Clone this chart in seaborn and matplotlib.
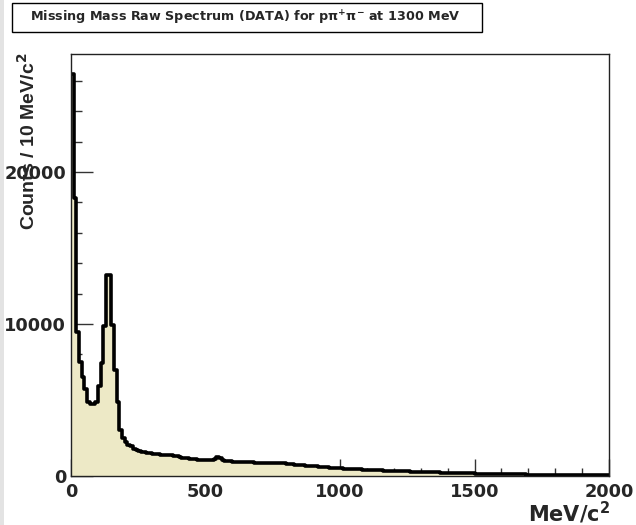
import numpy as np
import pandas as pd
import seaborn as sns
import matplotlib
matplotlib.use("Agg")
import matplotlib.pyplot as plt
from matplotlib import font_manager
from matplotlib.font_manager import FontProperties
from matplotlib.patches import Rectangle
from matplotlib.ticker import MultipleLocator

# Missing-mass spectrum, 10 MeV/c^2 bins from 0 to 2000 MeV/c^2
bin_width = 10
x_min, x_max = 0, 2000
counts = [
    26440, 18300, 9500, 7500, 6500, 5700, 4900, 4750, 4750, 4850,
    5900, 7450, 9900, 13200, 13250, 9950, 7000, 4900, 3050, 2480,
    2230, 2040, 1950, 1780, 1720, 1640, 1600, 1570, 1520, 1490,
    1470, 1440, 1420, 1400, 1390, 1380, 1370, 1350, 1330, 1300,
    1250, 1200, 1180, 1160, 1150, 1140, 1100, 1080, 1060, 1050,
    1050, 1040, 1060, 1130, 1230, 1200, 1060, 1000, 990, 975,
    950, 940, 930, 920, 915, 905, 900, 890, 880, 870,
    865, 860, 850, 845, 840, 835, 850, 880, 870, 830,
    800, 780, 765, 750, 735, 720, 705, 690, 675, 660,
    645, 630, 615, 600, 585, 570, 555, 540, 525, 510,
    500, 490, 480, 470, 460, 450, 440, 432, 424, 416,
    408, 400, 392, 384, 376, 368, 360, 352, 345, 338,
    332, 326, 320, 314, 308, 302, 296, 290, 284, 278,
    272, 266, 260, 254, 248, 242, 236, 230, 224, 218,
    212, 206, 200, 195, 190, 185, 180, 176, 172, 168,
    164, 160, 156, 152, 148, 144, 140, 136, 132, 128,
    124, 121, 118, 115, 112, 109, 106, 103, 100, 98,
    96, 94, 92, 90, 88, 86, 84, 82, 80, 79,
    78, 77, 76, 75, 74, 73, 72, 71, 70, 69,
    68, 67, 66, 65, 64, 63, 62, 61, 60, 59,
]
x_major_ticks = [0, 500, 1000, 1500, 2000]
y_major_ticks = [0, 10000, 20000]

title = "Missing Mass Raw Spectrum (DATA) for pπ$^{+}$π$^{-}$ at 1300 MeV"
y_title = "Counts / 10 MeV/c$^{2}$"
x_title = "MeV/c$^{2}$"

centers = x_min + bin_width * (np.arange(len(counts)) + 0.5)
df = pd.DataFrame({"mass": centers, "counts": counts})

sns.set_theme(style="white")
plt.rcParams["font.family"] = ["DejaVu Sans"]
plt.rcParams["font.weight"] = "bold"
plt.rcParams["mathtext.fontset"] = "custom"
plt.rcParams["mathtext.rm"] = "DejaVu Sans:bold"
plt.rcParams["mathtext.it"] = "DejaVu Sans:bold"
plt.rcParams["mathtext.bf"] = "DejaVu Sans:bold"


def font_available(name):
    try:
        font_manager.findfont(FontProperties(family=name, weight="bold"),
                              fallback_to_default=False)
        return True
    except ValueError:
        return False


# Narrow face for the vertical axis title
if font_available("Liberation Sans Narrow"):
    ytitle_family, ytitle_size = "Liberation Sans Narrow", 17
else:
    ytitle_family, ytitle_size = "Liberation Sans", 14

fig = plt.figure(figsize=(6.36, 5.25), dpi=100)
fig.patch.set_facecolor("white")
W, H = 636, 525
ax = fig.add_axes([71 / W, 1 - 476 / H, (609 - 71) / W, (476 - 54) / H])

fill_color = "#ede9c6"
hist_kw = dict(data=df, x="mass", weights="counts", binwidth=bin_width,
               binrange=(x_min, x_max), element="step", ax=ax)
sns.histplot(fill=True, color=fill_color, alpha=1, linewidth=0, **hist_kw)
sns.histplot(fill=False, color="black", linewidth=2.6, **hist_kw)

ax.set_xlim(x_min, x_max)
ax.set_ylim(0, 1.05 * max(counts))
ax.set_xlabel("")
ax.set_ylabel("")
ax.set_xticks(x_major_ticks)
ax.set_yticks(y_major_ticks)
ax.xaxis.set_minor_locator(MultipleLocator(100))
ax.yaxis.set_minor_locator(MultipleLocator(2000))
ax.tick_params(axis="x", which="major", direction="in", length=12, width=1,
               color="#333333", labelsize=12.8, pad=5, bottom=True, top=False)
ax.tick_params(axis="x", which="minor", direction="in", length=6, width=1,
               color="#333333", bottom=True, top=False)
ax.tick_params(axis="y", which="major", direction="in", length=16, width=1,
               color="#333333", labelsize=12.8, pad=3.5, left=True, right=False)
ax.tick_params(axis="y", which="minor", direction="in", length=8, width=1,
               color="#333333", left=True, right=False)
for lab in ax.get_xticklabels() + ax.get_yticklabels():
    lab.set_fontweight("bold")
for s in ax.spines.values():
    s.set_visible(True)
    s.set_color("#222222")
    s.set_linewidth(1.0)

# Grey strip along the left edge of the canvas
fig.add_artist(Rectangle((0, 0), 4 / W, 1, transform=fig.transFigure,
                         facecolor="#e3e3e3", edgecolor="none", zorder=0))

# Title box
fig.add_artist(Rectangle((11.5 / W, 1 - 32.3 / H), (482 - 11.5) / W,
                         (32.3 - 3.3) / H, transform=fig.transFigure,
                         facecolor="white", edgecolor="black", linewidth=1.0))
fig.text(245 / W, 1 - 18 / H, title, ha="center", va="center",
         fontsize=9.2, fontweight="bold")

fig.text(28 / W, 1 - 53 / H, y_title, rotation=90, ha="center", va="top",
         fontsize=ytitle_size, fontweight="bold", family=ytitle_family)
fig.text(610 / W, 1 - 522 / H, x_title, ha="right", va="baseline",
         fontsize=15, fontweight="bold")

fig.savefig("out.png", dpi=100)
